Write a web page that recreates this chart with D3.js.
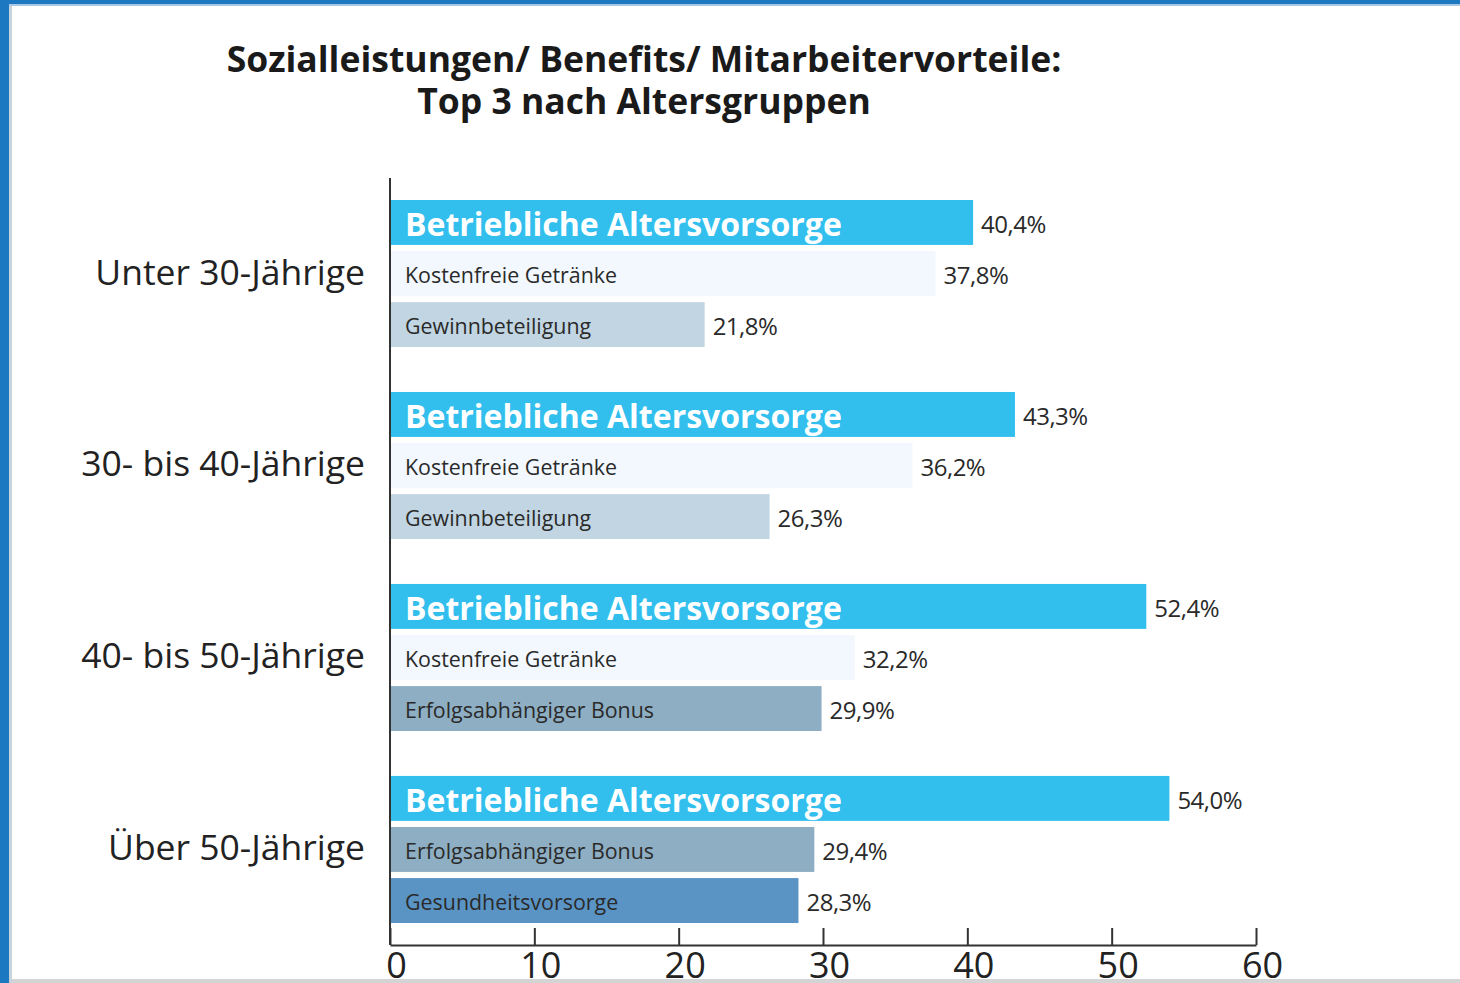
<!DOCTYPE html>
<html><head><meta charset="utf-8">
<script src="https://cdn.jsdelivr.net/npm/d3@7"></script>
<style>
html,body{margin:0;padding:0;background:#fff;overflow:hidden;}
svg{display:block;font-family:"Open Sans",sans-serif;}
</style></head>
<body>
<svg id="c" width="1460" height="983"></svg>
<script>
const titleLines = ["Sozialleistungen/ Benefits/ Mitarbeitervorteile:", "Top 3 nach Altersgruppen"];
const ageGroups = ["Unter 30-Jährige", "30- bis 40-Jährige", "40- bis 50-Jährige", "Über 50-Jährige"];
const rank1Labels = ["Betriebliche Altersvorsorge", "Betriebliche Altersvorsorge", "Betriebliche Altersvorsorge", "Betriebliche Altersvorsorge"];
const rank1Values = [40.4, 43.3, 52.4, 54.0];
const rank2Labels = ["Kostenfreie Getränke", "Kostenfreie Getränke", "Kostenfreie Getränke", "Erfolgsabhängiger Bonus"];
const rank2Values = [37.8, 36.2, 32.2, 29.4];
const rank3Labels = ["Gewinnbeteiligung", "Gewinnbeteiligung", "Erfolgsabhängiger Bonus", "Gesundheitsvorsorge"];
const rank3Values = [21.8, 26.3, 29.9, 28.3];
const xTicks = [0, 10, 20, 30, 40, 50, 60];
const benefitNames = ["Betriebliche Altersvorsorge", "Kostenfreie Getränke", "Gewinnbeteiligung", "Erfolgsabhängiger Bonus", "Gesundheitsvorsorge"];
const benefitColors = ["#33bfee", "#f2f8fd", "#c1d6e2", "#8eafc3", "#5a94c5"];

const svg = d3.select("#c");
// frame
svg.append("rect").attr("x",0).attr("y",0).attr("width",1460).attr("height",983).attr("fill","#fff");
svg.append("rect").attr("x",0).attr("y",979).attr("width",1460).attr("height",4).attr("fill","#d4d4d4");
svg.append("rect").attr("x",9).attr("y",4).attr("width",3).attr("height",979).attr("fill","#c9d3dc");
svg.append("rect").attr("x",0).attr("y",4).attr("width",1460).attr("height",2).attr("fill","#a9c6e2");
svg.append("rect").attr("x",0).attr("y",0).attr("width",1460).attr("height",4).attr("fill","#1c78c0");
svg.append("rect").attr("x",0).attr("y",0).attr("width",9).attr("height",983).attr("fill","#1c78c0");

// title
svg.append("g").selectAll("text").data(titleLines).join("text")
  .attr("x", 644).attr("y", (d,i)=> 72 + i*42)
  .attr("text-anchor","middle").attr("font-weight","bold").attr("font-size",35.5)
  .attr("fill","#1a1a1a").text(d=>d);

const rows = ageGroups.map((g,i)=>({group:g, bars:[
  {rank:0, label:rank1Labels[i], value:rank1Values[i]},
  {rank:1, label:rank2Labels[i], value:rank2Values[i]},
  {rank:2, label:rank3Labels[i], value:rank3Values[i]}]}));

const x = d3.scaleLinear().domain([0,60]).range([390,1256]);
const y0 = d3.scaleBand().domain(ageGroups).range([200,923]).paddingInner(0.234);
const y1 = d3.scaleBand().domain([0,1,2]).range([0,y0.bandwidth()]).paddingInner(0.12);
const color = d3.scaleOrdinal().domain(benefitNames).range(benefitColors);

const gg = svg.append("g").selectAll("g").data(rows).join("g")
  .attr("transform", d=>`translate(0,${y0(d.group)})`);

gg.append("text").attr("x",365).attr("y", y0.bandwidth()/2 - 3)
  .attr("text-anchor","end").attr("dominant-baseline","central")
  .attr("font-size",35.5).attr("fill","#222").text(d=>d.group);

const bg = gg.selectAll("g.bar").data(d=>d.bars).join("g").attr("class","bar");
bg.append("rect").attr("x", x(0)).attr("y", d=>y1(d.rank))
  .attr("width", d=>x(d.value)-x(0)).attr("height", y1.bandwidth())
  .attr("fill", d=>color(d.label));
bg.append("text").attr("x", x(0)+15).attr("y", d=>y1(d.rank)+y1.bandwidth()/2+1)
  .attr("dominant-baseline","central")
  .attr("font-size", d=>d.rank===0?32:21.4)
  .attr("font-weight", d=>d.rank===0?"bold":"normal")
  .attr("fill", d=>d.rank===0?"#fff":"#2a2a2a").text(d=>d.label);
bg.append("text").attr("x", d=>x(d.value)+8).attr("y", d=>y1(d.rank)+y1.bandwidth()/2+1)
  .attr("dominant-baseline","central").attr("font-size",24).attr("fill","#2a2a2a")
  .attr("letter-spacing","-0.5")
  .text(d=>d3.format(".1f")(d.value).replace(".", ",")+"%");

// axes
svg.append("line").attr("x1",x(0)).attr("x2",x(0)).attr("y1",178).attr("y2",945)
  .attr("stroke","#333").attr("stroke-width",2);
const ax = svg.append("g").attr("transform","translate(0,945)")
  .call(d3.axisBottom(x).tickValues(xTicks).tickSize(-17).tickSizeOuter(0).tickFormat(d3.format("d")));
ax.select(".domain").attr("stroke","#333").attr("stroke-width",2);
ax.selectAll(".tick line").attr("stroke","#333").attr("stroke-width",2);
ax.selectAll(".tick text").attr("font-size",36).attr("font-family","Open Sans, sans-serif")
  .attr("fill","#222").attr("y",7).attr("dy","0.71em").attr("dx",6);
</script>
</body></html>
